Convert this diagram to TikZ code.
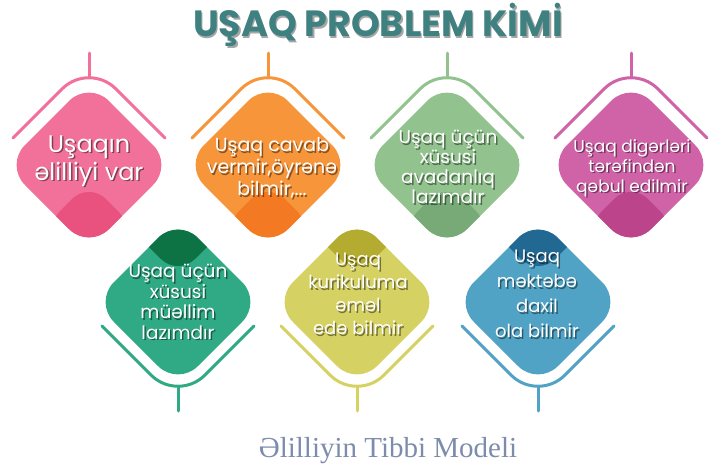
\documentclass[tikz,border=0pt]{standalone}
\usepackage{fontspec}
\setmainfont{Poppins}
\newfontfamily\captionfont{Liberation Serif}

\definecolor{pinkc}{HTML}{F2719A}
\definecolor{pinkd}{HTML}{E9517F}
\definecolor{orangec}{HTML}{F7953B}
\definecolor{oranged}{HTML}{F37A22}
\definecolor{sagec}{HTML}{92C38F}
\definecolor{saged}{HTML}{77AA76}
\definecolor{plumc}{HTML}{D062A8}
\definecolor{plumd}{HTML}{BC448B}
\definecolor{tealc}{HTML}{2FAA84}
\definecolor{teald}{HTML}{0E7344}
\definecolor{olivec}{HTML}{D5D163}
\definecolor{olived}{HTML}{B4AC30}
\definecolor{bluec}{HTML}{50A3C5}
\definecolor{blued}{HTML}{216893}
\definecolor{titlec}{HTML}{3F8080}
\definecolor{capc}{HTML}{7D8CAB}

\tikzset{
    hanger/.style={line width=3pt, line cap=round, rounded corners=38pt},
    cardtxt/.style={text=white, align=center, inner sep=0pt},
    cardshadow/.style={cardtxt, text=black, opacity=0.45},
}

\begin{document}
\begin{tikzpicture}[x=1pt, y=-1pt]
    \useasboundingbox (0,0) rectangle (716,472);

    % top row
    \foreach \cx/\cc/\dc in {89/pinkc/pinkd, 268/orangec/oranged, 447/sagec/saged, 631/plumc/plumd}{
        \draw[hanger, \cc] (\cx-76,138) -- (\cx,62) -- (\cx+76,138);
        \draw[hanger, \cc] (\cx,53) -- (\cx,77);
        \begin{scope}
            \clip[rounded corners=28pt] (\cx,81) -- (\cx+84,165) -- (\cx,249) -- (\cx-84,165) -- cycle;
            \fill[\cc] (\cx-84,81) rectangle (\cx+84,249);
            \fill[\dc, rounded corners=24pt] (\cx,182) -- (\cx+46,228) -- (\cx,274) -- (\cx-46,228) -- cycle;
        \end{scope}
    }

    % bottom row
    \foreach \cx/\cc/\dc in {178/tealc/teald, 357/olivec/olived, 538/bluec/blued}{
        \draw[hanger, \cc] (\cx-76,326) -- (\cx,402) -- (\cx+76,326);
        \draw[hanger, \cc] (\cx,387) -- (\cx,411);
        \begin{scope}
            \clip[rounded corners=28pt] (\cx,218) -- (\cx+84,302) -- (\cx,386) -- (\cx-84,302) -- cycle;
            \fill[\cc] (\cx-84,218) rectangle (\cx+84,386);
            \fill[\dc, rounded corners=24pt] (\cx,184) -- (\cx+46,230) -- (\cx,276) -- (\cx-46,230) -- cycle;
        \end{scope}
    }

    % texts
    \node[text=black!35] (basliq-s) at (379.5,26.5) {\fontsize{36.5}{39}\selectfont\bfseries UŞAQ PROBLEM KİMİ};
    \node[text=titlec] (basliq) at (378,25) {\fontsize{36.5}{39}\selectfont\bfseries UŞAQ PROBLEM KİMİ};

    \node[cardshadow, font=\fontsize{24}{28}\selectfont] (elil-s) at (90.5,162.5) {Uşaqın\\əlilliyi var};
    \node[cardtxt, font=\fontsize{24}{28}\selectfont] (elil) at (89,161) {Uşaqın\\əlilliyi var};

    \node[cardshadow, font=\fontsize{19}{22}\selectfont] (cavab-s) at (273.5,169.5) {Uşaq cavab\\vermir,öyrənə\\bilmir,...};
    \node[cardtxt, font=\fontsize{19}{22}\selectfont] (cavab) at (272,168) {Uşaq cavab\\vermir,öyrənə\\bilmir,...};

    \node[cardshadow, font=\fontsize{18.5}{20}\selectfont] (avadanliq-s) at (449.5,168.5) {Uşaq üçün\\xüsusi\\avadanlıq\\lazımdır};
    \node[cardtxt, font=\fontsize{18.5}{20}\selectfont] (avadanliq) at (448,167) {Uşaq üçün\\xüsusi\\avadanlıq\\lazımdır};

    \node[cardshadow, font=\fontsize{17}{20}\selectfont] (qebul-s) at (633.5,169.5) {Uşaq digərləri\\tərəfindən\\qəbul edilmir};
    \node[cardtxt, font=\fontsize{17}{20}\selectfont] (qebul) at (632,168) {Uşaq digərləri\\tərəfindən\\qəbul edilmir};

    \node[cardshadow, font=\fontsize{18.5}{20.5}\selectfont] (muellim-s) at (179.5,303.5) {Uşaq üçün\\xüsusi\\müəllim\\lazımdır};
    \node[cardtxt, font=\fontsize{18.5}{20.5}\selectfont] (muellim) at (178,302) {Uşaq üçün\\xüsusi\\müəllim\\lazımdır};

    \node[cardshadow, font=\fontsize{18}{23}\selectfont] (kurikulum-s) at (359.5,295.5) {Uşaq\\kurikuluma\\əməl\\edə bilmir};
    \node[cardtxt, font=\fontsize{18}{23}\selectfont] (kurikulum) at (358,294) {Uşaq\\kurikuluma\\əməl\\edə bilmir};

    \node[cardshadow, font=\fontsize{18}{25}\selectfont] (mekteb-s) at (538.5,295.5) {Uşaq\\məktəbə\\daxil\\ola bilmir};
    \node[cardtxt, font=\fontsize{18}{25}\selectfont] (mekteb) at (537,294) {Uşaq\\məktəbə\\daxil\\ola bilmir};

    \node[text=capc] (model) at (388,451) {\captionfont\fontsize{29}{32}\selectfont Əlilliyin Tibbi Modeli};
\end{tikzpicture}
\end{document}
